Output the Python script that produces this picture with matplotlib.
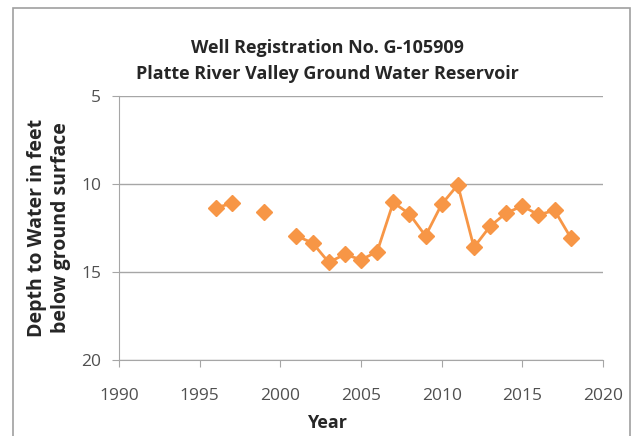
import numpy as np
import matplotlib
matplotlib.use('Agg')
import matplotlib.pyplot as plt
from matplotlib.patches import Rectangle

# depth to water by year (NaN = no measurement)
years = [1996, 1997, 1998, 1999, 2000, 2001, 2002, 2003, 2004, 2005, 2006, 2007,
         2008, 2009, 2010, 2011, 2012, 2013, 2014, 2015, 2016, 2017, 2018]
depth = [11.35, 11.1, np.nan, 11.6, np.nan, 12.95, 13.35, 14.45, 14.0, 14.3, 13.85, 11.05,
         11.7, 12.95, 11.15, 10.05, 13.6, 12.4, 11.65, 11.25, 11.75, 11.5, 13.05]

x_ticks = [1990, 1995, 2000, 2005, 2010, 2015, 2020]
y_ticks = [5, 10, 15, 20]

plt.rcParams['font.family'] = ['Open Sans', 'DejaVu Sans']

fig = plt.figure(figsize=(6.39, 4.36), dpi=100)
ax = fig.add_axes([119 / 639, 1 - 360 / 436, (603 - 119) / 639, (360 - 96) / 436])

# chart border
fig.patches.append(Rectangle((13 / 639, -0.05), (630 - 13) / 639, 1.05 - 8 / 436,
                             transform=fig.transFigure, fill=False,
                             edgecolor='#a0a0a0', linewidth=1.2))

ax.plot(years, depth, color='#F79646', linewidth=2, marker='D', markersize=8,
        markeredgecolor='#F79646', markerfacecolor='#F79646')

ax.set_xlim(1990, 2020)
ax.set_ylim(20, 5)
ax.set_xticks(x_ticks)
ax.set_yticks(y_ticks)
ax.grid(axis='y', color='#a6a6a6', linewidth=1)
ax.set_axisbelow(True)

for s in ['top', 'right']:
    ax.spines[s].set_visible(False)
for s in ['left', 'bottom']:
    ax.spines[s].set_color('#a6a6a6')
ax.tick_params(colors='#a6a6a6', labelcolor='#505050', labelsize=12.5, length=5,
               direction='out')
ax.tick_params(axis='x', pad=15)
ax.tick_params(axis='y', pad=8)

# chart titles are centred on the chart area, not the plot area
cx = (327 - 119) / 484
ax.set_xlabel('Year', fontsize=13, fontweight='bold', color='#262626')
ax.xaxis.set_label_coords(cx, (360 - 423) / 264)
ax.xaxis.label.set_va('center')
ax.set_ylabel('Depth to Water in feet\nbelow ground surface', fontsize=14,
              fontweight='bold', color='#262626', linespacing=1.28, labelpad=7)
ax.set_title('Well Registration No. G-105909\nPlatte River Valley Ground Water Reservoir',
             fontsize=13, fontweight='bold', color='#262626', linespacing=1.6, pad=12, x=cx)

fig.savefig('out.png', dpi=100)
